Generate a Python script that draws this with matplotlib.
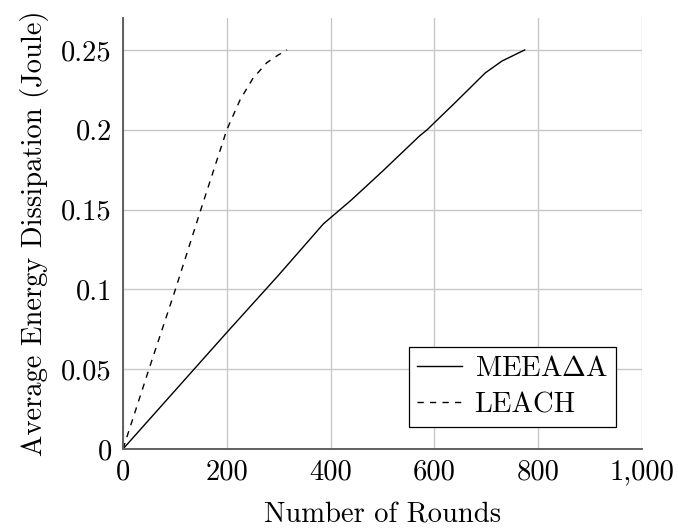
import matplotlib
matplotlib.use("Agg")
import matplotlib.pyplot as plt

# Data
meea_x = [0, 100, 200, 300, 386, 440, 500, 571, 586, 640, 698, 730, 774]
meea_y = [0, 0.0365, 0.073, 0.109, 0.141, 0.156, 0.174, 0.196, 0.200, 0.217, 0.2356, 0.243, 0.25]
leach_x = [0, 50, 100, 150, 200, 226, 250, 277, 300, 316]
leach_y = [0, 0.05, 0.099, 0.15, 0.20, 0.219, 0.232, 0.242, 0.247, 0.25]
xticks = [0, 200, 400, 600, 800, 1000]
xtick_labels = ["0", "200", "400", "600", "800", "1,000"]
yticks = [0, 0.05, 0.1, 0.15, 0.2, 0.25]
ytick_labels = ["0", "0.05", "0.1", "0.15", "0.2", "0.25"]

plt.rcParams['font.family'] = ['cmr10', 'DejaVu Serif']
plt.rcParams['mathtext.fontset'] = 'cm'
plt.rcParams['axes.formatter.use_mathtext'] = True

FS = 20.6
fig = plt.figure(figsize=(6.78, 5.29), dpi=100)
ax = fig.add_axes([123/678, 80/529, (642-123)/678, (449-18)/529])

ax.plot(meea_x, meea_y, color='black', lw=1.0, label=r'MEEA$\Delta$A')
ax.plot(leach_x, leach_y, color='black', lw=1.0, ls=(0, (4.5, 4.5)), label='LEACH')

ax.set_xlim(0, 1000)
ax.set_ylim(0, 0.27)
ax.set_xticks(xticks)
ax.set_xticklabels(xtick_labels)
ax.set_yticks(yticks)
ax.set_yticklabels(ytick_labels)
ax.grid(True, color='#c8c8c8', lw=1.0)
ax.set_axisbelow(True)
for s in ['top', 'right']:
    ax.spines[s].set_visible(False)
for s in ['left', 'bottom']:
    ax.spines[s].set_color('#606060')
    ax.spines[s].set_linewidth(1.4)
ax.tick_params(axis='both', length=0, labelsize=FS, colors='black')
ax.tick_params(axis='x', pad=7)
ax.tick_params(axis='y', pad=8)

ax.set_xlabel('Number of Rounds', fontsize=FS, labelpad=12.5)
ax.set_ylabel('Average Energy Dissipation (Joule)', fontsize=FS, labelpad=9)

leg = ax.legend(loc='lower right', bbox_to_anchor=((616-123)/519, (449-427)/431),
                fontsize=FS, frameon=True, fancybox=False, edgecolor='black',
                handlelength=1.55, borderpad=0.3, labelspacing=0.35, handletextpad=0.45,
                borderaxespad=0, framealpha=1)
leg.get_frame().set_linewidth(0.9)

fig.savefig('out.png', dpi=100)
